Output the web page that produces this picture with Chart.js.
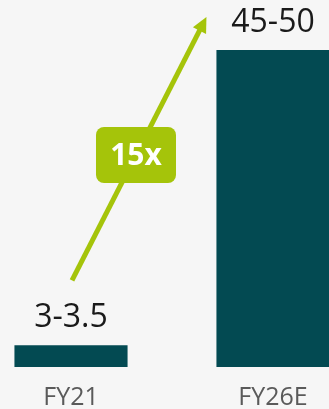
<!DOCTYPE html>
<html>
<head>
<meta charset="utf-8">
<script src="https://cdn.jsdelivr.net/npm/chart.js@4"></script>
<style>
  html, body { margin: 0; padding: 0; background: #f6f6f6; overflow: hidden; }
  #wrap { position: relative; width: 329px; height: 409px; overflow: hidden; }
  #chart { position: absolute; left: -30px; top: 0; }
</style>
</head>
<body>
<div id="wrap"><canvas id="chart" width="404" height="409"></canvas></div>
<script>
const categories = ['FY21', 'FY26E'];
const values = [3.25, 47.5];
const valueLabels = ['3-3.5', '45-50'];
const growthLabel = '15x';

const barColor = '#034a52';
const green = '#a5c40a';

// value text above each bar
const valueText = {
  id: 'valueText',
  afterDatasetsDraw(chart) {
    const ctx = chart.ctx;
    const bars = chart.getDatasetMeta(0).data;
    ctx.save();
    ctx.font = '32px "Open Sans"';
    ctx.fillStyle = '#1a1a1a';
    ctx.textAlign = 'center';
    ctx.textBaseline = 'alphabetic';
    bars.forEach((bar, i) => {
      ctx.fillText(valueLabels[i], bar.x, bar.y - 18);
    });
    ctx.restore();
  }
};

// growth arrow with badge
const growthArrow = {
  id: 'growthArrow',
  afterDraw(chart) {
    const ctx = chart.ctx;
    const bars = chart.getDatasetMeta(0).data;
    const a = bars[0], b = bars[1];
    const x0 = a.x + 1, y0 = a.y - 65;
    const x1 = b.x - b.width / 2 - 10, y1 = b.y - 33;
    const ang = Math.atan2(y1 - y0, x1 - x0);
    const head = 17;
    ctx.save();
    ctx.strokeStyle = green;
    ctx.fillStyle = green;
    ctx.lineWidth = 5;
    ctx.beginPath();
    ctx.moveTo(x0, y0);
    ctx.lineTo(x1 - Math.cos(ang) * head * 0.8, y1 - Math.sin(ang) * head * 0.8);
    ctx.stroke();
    ctx.beginPath();
    ctx.moveTo(x1, y1);
    ctx.lineTo(x1 - Math.cos(ang - 0.45) * head, y1 - Math.sin(ang - 0.45) * head);
    ctx.lineTo(x1 - Math.cos(ang + 0.45) * head, y1 - Math.sin(ang + 0.45) * head);
    ctx.closePath();
    ctx.fill();

    // badge on the line
    const cy = 155;
    const cx = x0 + (y0 - cy) / (y0 - y1) * (x1 - x0);
    const w = 80, h = 56;
    ctx.beginPath();
    ctx.roundRect(cx - w / 2, cy - h / 2, w, h, 8);
    ctx.fill();
    ctx.fillStyle = '#ffffff';
    ctx.font = 'bold 30px "Open Sans"';
    ctx.textAlign = 'center';
    ctx.textBaseline = 'middle';
    ctx.fillText(growthLabel, cx, cy + 1);
    ctx.restore();
  }
};

new Chart(document.getElementById('chart'), {
  type: 'bar',
  data: {
    labels: categories,
    datasets: [{
      data: values,
      backgroundColor: barColor,
      borderWidth: 0,
      categoryPercentage: 1,
      barPercentage: 0.56
    }]
  },
  options: {
    responsive: false,
    animation: false,
    layout: { padding: { top: 0, bottom: -12, left: 0, right: 0 } },
    plugins: { legend: { display: false }, tooltip: { enabled: false } },
    scales: {
      x: {
        grid: { display: false },
        border: { display: false },
        ticks: { color: '#5a5a5a', font: { family: 'Open Sans', size: 25 }, padding: 8 }
      },
      y: { display: false, min: 0, max: 55 }
    }
  },
  plugins: [valueText, growthArrow]
});
</script>
</body>
</html>
